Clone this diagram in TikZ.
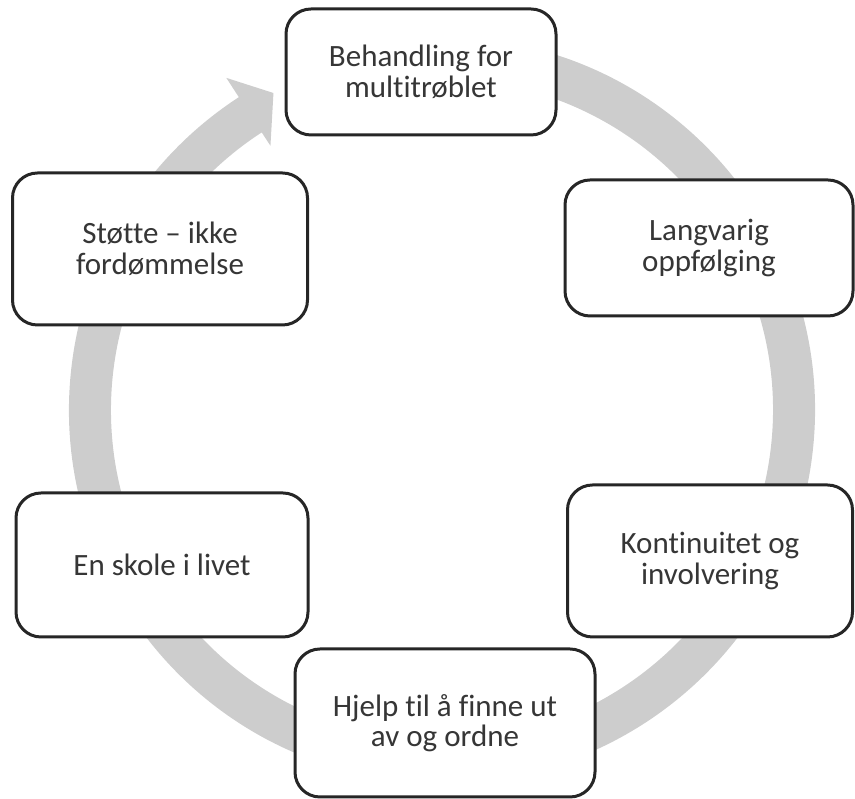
\documentclass[tikz,border=0pt]{standalone}
\usepackage{fontspec}
\setmainfont{Carlito}[Ligatures=NoCommon]
\usepackage{xcolor}
\usepackage{tikz}
\usetikzlibrary{calc}

\definecolor{boxline}{HTML}{262626}
\definecolor{boxtext}{HTML}{363636}
\definecolor{ringgray}{HTML}{CDCDCD}

\begin{document}
\begin{tikzpicture}[x=1pt, y=1pt,
  every node/.style={font=\fontsize{31}{30.5}\selectfont, text=boxtext},
  phase/.style={draw=boxline, line width=3pt, rounded corners=25pt, fill=white, align=center}]
  \useasboundingbox (0,0) rectangle (855,799);
  \coordinate (c) at (442,389);
  % grey ring with arrow head
  \fill[ringgray] ($(c)+(80:373pt)$) arc[start angle=80, end angle=-237, radius=373pt]
    -- ($(c)+(123:396pt)$) -- ($(c)+(118:359pt)$) -- ($(c)+(123:315pt)$)
    -- ($(c)+(123:331pt)$) arc[start angle=-237, end angle=80, radius=331pt] -- cycle;
  \node[phase, minimum width=270pt, minimum height=126pt] (beh) at (421,727) {Behandling for\\multitrøblet};
  \node[phase, minimum width=288pt, minimum height=136pt] (lang) at (709,551) {Langvarig\\oppfølging};
  \node[phase, minimum width=285pt, minimum height=152pt] (kont) at (710,238) {Kontinuitet og\\involvering};
  \node[phase, minimum width=300pt, minimum height=148pt] (hjelp) at (445,76) {Hjelp til å finne ut\\av og ordne};
  \node[phase, minimum width=292pt, minimum height=144pt] (skole) at (162,234) {En skole i livet};
  \node[phase, minimum width=295pt, minimum height=152pt] (stotte) at (160,550) {Støtte – ikke\\fordømmelse};
\end{tikzpicture}
\end{document}
